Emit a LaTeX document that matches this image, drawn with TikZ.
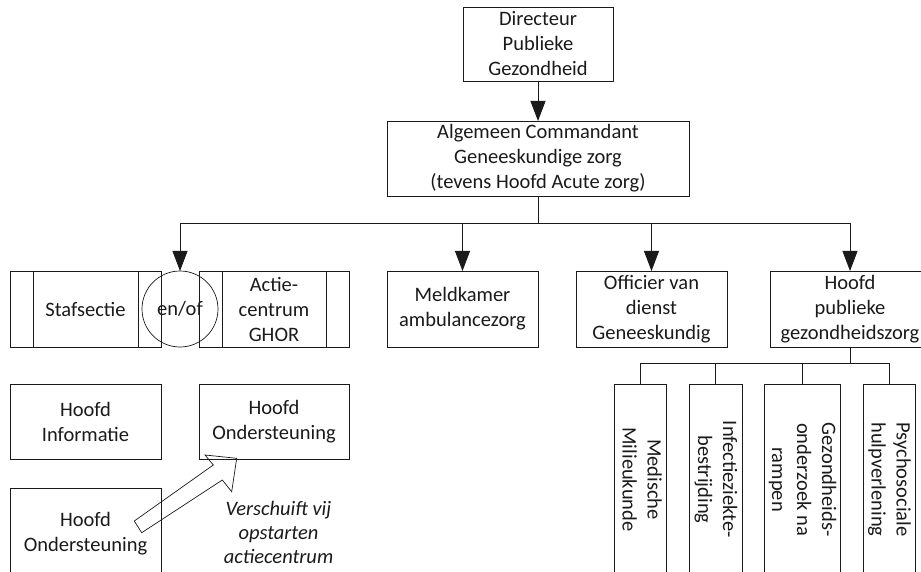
\documentclass[tikz,border=0pt]{standalone}
\usepackage{fontspec}
\setmainfont{Carlito}
\usepackage{graphicx}
\usetikzlibrary{arrows.meta}
\definecolor{c1a1a1a}{RGB}{26,26,26}
\newcommand{\rotlabel}[1]{\rotatebox{-90}{\begin{tabular}{@{}c@{}}#1\end{tabular}}}

\begin{document}
\begin{tikzpicture}[y=-1pt, x=1pt, inner sep=0pt, outer sep=0pt,
  font=\fontsize{20.5}{25}\selectfont, text=c1a1a1a,
  kader/.style={draw=c1a1a1a, line width=0.8pt, align=center, minimum height=76pt},
  proces/.style={kader, minimum width=151pt, path picture={
    \draw[line width=0.8pt] ([xshift=23pt]path picture bounding box.north west) -- ([xshift=23pt]path picture bounding box.south west);
    \draw[line width=0.8pt] ([xshift=-23pt]path picture bounding box.north east) -- ([xshift=-23pt]path picture bounding box.south east);}},
  sub/.style={kader, minimum height=191pt},
  lijn/.style={draw=c1a1a1a, line width=0.8pt},
  pijl/.style={lijn, -{Triangle[length=20pt,width=15pt]}}]
  \clip (0,0) rectangle (921,572);



  \node[kader, minimum width=150pt, minimum height=74pt] (dir) at (538,44) {Directeur\\Publieke\\Gezondheid};

  \node[kader, minimum width=302pt, minimum height=75pt] (acg) at (538,158.5) {Algemeen Commandant\\Geneeskundige zorg\\(tevens Hoofd Acute zorg)};



  \node[proces] (staf) at (85.5,309) {Stafsectie};

  \node[proces, minimum width=150pt] (actie) at (274,309) {Actie-\\centrum\\GHOR};

  \node[draw=c1a1a1a, circle, line width=0.7pt, minimum size=76pt] (enof) at (180,309) {en/of};

  \node[kader, minimum width=151pt] (meld) at (462.5,309) {Meldkamer\\ambulancezorg};

  \node[kader, minimum width=151pt] (offi) at (651.5,309) {Officier van\\dienst\\Geneeskundig};

  \node[kader, minimum width=160pt] (hpg) at (850,309) {Hoofd\\publieke\\gezondheidszorg};



  \node[sub, minimum width=52pt] (med) at (640,479.5) {\rotlabel{Medische\\Milieukunde}};

  \node[sub, minimum width=53pt] (infz) at (715.5,479.5) {\rotlabel{Infectieziekte-\\bestrijding}};

  \node[sub, minimum width=76pt] (gezo) at (802,479.5) {\rotlabel{Gezondheids-\\onderzoek na\\rampen}};

  \node[sub, minimum width=52pt] (psyc) at (889,479.5) {\rotlabel{Psychosociale\\hulpverlening}};



  \node[kader, minimum width=151pt, minimum height=75pt] (hinfo) at (85.5,421.5) {Hoofd\\Informatie};

  \node[kader, minimum width=150pt, minimum height=75pt] (hond1) at (274,421.5) {Hoofd\\Ondersteuning};

  \node[kader, minimum width=151pt, minimum height=92pt] (hond2) at (85.5,534) {Hoofd\\Ondersteuning};

  \node[align=center, font=\fontsize{20.5}{24}\selectfont\itshape] (verschuif) at (278.5,532) {Verschuift vij\\opstarten\\actiecentrum};



  \coordinate (bus) at (538,223);

  \coordinate (subbus) at (850,363);

  \draw[pijl] (dir.south) -- (acg.north);

  \draw[lijn] (acg.south) -- (bus);

  \draw[pijl] (bus) -| (enof.north);

  \draw[pijl] (bus) -| (meld.north);

  \draw[pijl] (bus) -| (offi.north);

  \draw[pijl] (bus) -| (hpg.north);

  \draw[lijn] (hpg.south) -- (subbus);

  \draw[lijn] (subbus) -| (med.north);

  \draw[lijn] (subbus) -| (infz.north);

  \draw[lijn] (subbus) -| (gezo.north);

  \draw[lijn] (subbus) -| (psyc.north);



  \draw[lijn, line width=0.7pt] (134.3,521) -- (213.3,465) -- (205,455) -- (236.7,458.3) -- (231.7,491.7) -- (222.3,480) -- (141.7,532.7) -- cycle;
\end{tikzpicture}
\end{document}
